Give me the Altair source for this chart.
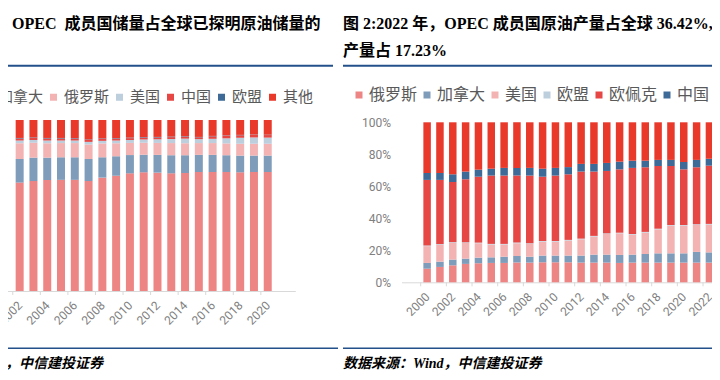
import altair as alt
import pandas as pd

# ---------------- left panel: reserves share ----------------
L_YEARS = list(range(2002, 2021))
L_SERIES = ["OPEC", "加拿大", "俄罗斯", "美国", "中国", "欧盟", "其他"]
L_OPEC = [63.4, 64.3, 64.9, 65.0, 65.0, 64.3, 66.3, 67.4, 68.8, 69.4, 69.2, 68.8, 69.0, 69.6, 69.6, 69.6, 69.4, 69.6, 69.6]
L_CAN = [13.8, 13.7, 13.1, 13.2, 13.2, 12.9, 11.9, 11.4, 10.7, 10.3, 10.4, 10.6, 10.4, 10.0, 10.0, 9.8, 9.8, 9.6, 9.6]
L_RUS = [9.2, 8.7, 8.4, 8.3, 8.3, 8.5, 8.1, 7.6, 7.1, 7.0, 7.0, 7.1, 7.0, 6.9, 6.9, 6.9, 6.9, 6.9, 6.9]
L_USA = [1.6, 1.6, 1.6, 1.5, 1.5, 1.5, 1.5, 1.6, 1.7, 1.9, 2.1, 2.4, 2.7, 2.3, 2.5, 3.0, 3.5, 3.7, 3.6]
L_CHN = [1.2, 1.2, 1.2, 1.2, 1.1, 1.1, 1.1, 1.1, 1.1, 1.1, 1.1, 1.1, 1.1, 1.1, 1.5, 1.5, 1.5, 1.5, 1.5]
L_EU = [0.3, 0.3, 0.3, 0.3, 0.3, 0.3, 0.3, 0.3, 0.3, 0.3, 0.3, 0.3, 0.3, 0.2, 0.2, 0.2, 0.2, 0.2, 0.2]
L_OTH = [10.5, 10.2, 10.5, 10.5, 10.6, 11.4, 10.8, 10.6, 10.3, 10.0, 9.9, 9.7, 9.5, 9.9, 9.3, 9.0, 8.7, 8.5, 8.6]
L_LABEL_YEARS = [2002, 2004, 2006, 2008, 2010, 2012, 2014, 2016, 2018, 2020]
L_TICKS = [2001.5, 2003.5, 2005.5, 2007.5, 2009.5, 2011.5, 2013.5, 2015.5, 2017.5, 2019.5]

# ---------------- right panel: production share ----------------
R_YEARS = list(range(2000, 2023))
R_SERIES = ["俄罗斯", "加拿大", "美国", "欧盟", "欧佩克", "中国", "其他"]
R_RUS = [8.5, 9.6, 10.6, 11.5, 11.9, 12.1, 12.1, 12.3, 12.3, 12.5, 12.5, 12.5, 12.3, 12.3, 12.3, 12.1, 12.3, 12.3, 12.3, 12.3, 12.3, 12.3, 12.3]
R_CAN = [3.6, 3.3, 3.6, 3.3, 3.5, 3.5, 3.9, 4.2, 3.7, 4.2, 4.2, 4.2, 4.4, 5.0, 5.0, 5.0, 5.0, 5.4, 5.8, 5.8, 5.8, 6.7, 6.4]
R_USA = [10.5, 10.6, 10.5, 9.8, 9.0, 8.0, 7.6, 7.9, 8.0, 8.7, 8.7, 9.4, 10.2, 11.3, 12.9, 13.5, 12.5, 13.4, 15.0, 17.3, 17.3, 16.9, 17.4]
R_EU = [0.4, 0.4, 0.4, 0.4, 0.4, 0.4, 0.4, 0.4, 0.4, 0.4, 0.4, 0.4, 0.4, 0.4, 0.4, 0.4, 0.4, 0.4, 0.4, 0.4, 0.4, 0.4, 0.4]
R_OPEC = [41.0, 40.1, 37.6, 39.4, 41.2, 42.7, 42.7, 41.9, 42.3, 40.2, 40.9, 41.0, 41.9, 40.2, 39.0, 39.6, 41.3, 40.4, 39.2, 36.9, 34.8, 35.6, 36.4]
R_CHN = [4.3, 4.3, 4.8, 4.8, 4.4, 4.3, 4.8, 4.8, 4.8, 5.0, 4.8, 4.5, 4.8, 4.8, 5.0, 4.8, 4.5, 4.1, 3.8, 3.8, 4.6, 4.6, 4.3]
R_OTH = [31.7, 31.7, 32.5, 30.8, 29.6, 29.0, 28.5, 28.5, 28.5, 29.0, 28.5, 28.0, 26.0, 26.0, 25.4, 24.6, 24.0, 24.0, 23.5, 23.5, 24.8, 23.5, 22.8]
R_LABEL_YEARS = list(range(2000, 2023, 2))
R_TICKS = [1999.5 + 2 * k for k in range(12)]
R_Y_TICKS = [0, 20, 40, 60, 80, 100]

# ---------------- text ----------------
TITLE_LEFT = "OPEC\u00a0\u00a0成员国储量占全球已探明原油储量的"
TITLE_RIGHT_1 = "图 2:2022 年，OPEC 成员国原油产量占全球 36.42%,"
TITLE_RIGHT_2 = "产量占 17.23%"
SOURCE = "数据来源：Wind，中信建投证券"

# ---------------- style ----------------
PINK = "#EE8585"
BLUEGREY = "#7F9DBA"
LIGHTPINK = "#F4B3B3"
LIGHTBLUE = "#BDCEDD"
RED = "#E64745"
DARKBLUE = "#3D6A97"
BRIGHTRED = "#E8392B"
L_COLORS = [PINK, BLUEGREY, LIGHTPINK, LIGHTBLUE, RED, DARKBLUE, BRIGHTRED]
R_COLORS = [PINK, BLUEGREY, LIGHTPINK, LIGHTBLUE, RED, DARKBLUE, BRIGHTRED]
AXIS_GREY = "#D9D9D9"
LABEL_GREY = "#808080"
LEGEND_GREY = "#595959"
RULE_BLUE = "#23508A"
SERIF = "Liberation Serif, Noto Sans CJK SC"
SANS = "Noto Sans CJK SC"

W, H = 704, 364

def long_df(years, names, cols, sname):
    rows = []
    for i, (n, col) in enumerate(zip(names, cols)):
        for y, v in zip(years, col):
            rows.append({"year": y, sname: n, "v": v, "i": i})
    return pd.DataFrame(rows)

dfL = long_df(L_YEARS, L_SERIES, [L_OPEC, L_CAN, L_RUS, L_USA, L_CHN, L_EU, L_OTH], "s1")
dfR = long_df(R_YEARS, R_SERIES, [R_RUS, R_CAN, R_USA, R_EU, R_OPEC, R_CHN, R_OTH], "s2")

def x_axis(values, offset):
    return alt.Axis(values=values, format="d", labelAngle=-45, orient="bottom", offset=offset,
                    domainColor=AXIS_GREY, ticks=False, grid=False, title=None,
                    labelColor=LABEL_GREY, labelFont="Roboto", labelFontSize=12,
                    labelAlign="right", labelBaseline="middle", labelPadding=12,
                    labelFlush=False, labelOverlap=False)

L_BASE, L_TOP = 283, 112
R_BASE, R_TOP = 274.3, 114.3

left_bars = alt.Chart(dfL).mark_bar(size=8).encode(
    x=alt.X("year:Q", scale=alt.Scale(domain=[2001.5, 2020.5], range=[-15.9, 287.3]),
            axis=x_axis(L_LABEL_YEARS, L_BASE - H)),
    y=alt.Y("v:Q", stack="zero", scale=alt.Scale(domain=[0, 100], range=[L_BASE, L_TOP]), axis=None),
    color=alt.Color("s1:N", scale=alt.Scale(domain=L_SERIES, range=L_COLORS),
                    legend=alt.Legend(orient="none", legendX=-28, legendY=81.5, direction="horizontal",
                                      title=None, values=L_SERIES[1:], symbolType="square", symbolSize=49,
                                      symbolStrokeWidth=0, symbolOpacity=1, labelFont=SANS, labelFontSize=15,
                                      labelColor=LEGEND_GREY, labelOffset=3, columnPadding=2, padding=0)),
    order=alt.Order("i:Q"),
)
left_ticks = alt.Chart(pd.DataFrame({"year": L_TICKS})).mark_rule(color=AXIS_GREY).encode(
    x="year:Q", y=alt.value(L_BASE), y2=alt.value(L_BASE + 4))
left = alt.layer(left_bars, left_ticks)

right_bars = alt.Chart(dfR).mark_bar(size=7.5).encode(
    x=alt.X("year:Q", scale=alt.Scale(domain=[1999.5, 2022.5], range=[393.45, 727.1]),
            axis=x_axis(R_LABEL_YEARS, R_BASE - H)),
    y=alt.Y("v:Q", stack="zero", scale=alt.Scale(domain=[0, 100], range=[R_BASE, R_TOP]),
            axis=alt.Axis(values=R_Y_TICKS, labelExpr="datum.value + '%'", orient="left", offset=-393.5,
                          domain=False, ticks=False, grid=False, title=None, labelPadding=11,
                          labelColor=LABEL_GREY, labelFont="Roboto", labelFontSize=12, labelFlush=False)),
    color=alt.Color("s2:N", scale=alt.Scale(domain=R_SERIES, range=R_COLORS),
                    legend=alt.Legend(orient="none", legendX=343, legendY=79, direction="horizontal",
                                      title=None, symbolType="square", symbolSize=49,
                                      symbolStrokeWidth=0, symbolOpacity=1, labelFont=SANS, labelFontSize=16,
                                      labelColor=LEGEND_GREY, labelOffset=2, columnPadding=1, padding=0)),
    order=alt.Order("i:Q"),
)
right_ticks = alt.Chart(pd.DataFrame({"year": R_TICKS})).mark_rule(color=AXIS_GREY).encode(
    x="year:Q", y=alt.value(R_BASE), y2=alt.value(R_BASE + 4))
right = alt.layer(right_bars, right_ticks)

one = pd.DataFrame({"k": [0]})

def txt(s, x, y, size, align="left", weight="bold", style="normal", font=SERIF, color="#000000"):
    return alt.Chart(one).mark_text(align=align, baseline="middle", fontSize=size, fontWeight=weight,
                                    fontStyle=style, font=font, color=color).encode(
        x=alt.value(x), y=alt.value(y), text=alt.value(s))

def hline(x1, x2, y, w=2):
    return alt.Chart(one).mark_rule(color=RULE_BLUE, strokeWidth=w).encode(
        x=alt.value(x1), x2=alt.value(x2), y=alt.value(y))

decor = [
    txt(TITLE_LEFT, 4, 16, 16),
    txt(TITLE_RIGHT_1, 335, 16, 16),
    txt(TITLE_RIGHT_2, 335, 43, 16),
    hline(-8, 325, 57.7),
    hline(335, 712, 57.7),
    hline(-8, 330, 340.3, 1.5),
    hline(335, 712, 340.3, 1.5),
    txt(SOURCE, 95, 356, 14, align="right", style="italic"),
    txt(SOURCE, 335, 356, 14, style="italic"),
]

chart = alt.layer(left, right, *decor).resolve_scale(
    x="independent", y="independent", color="independent"
).properties(
    width=W, height=H, autosize=alt.AutoSizeParams(type="none"), padding=0
).configure_view(strokeWidth=0)

chart.save("out.html", embed_options={"renderer": "svg", "actions": False})
